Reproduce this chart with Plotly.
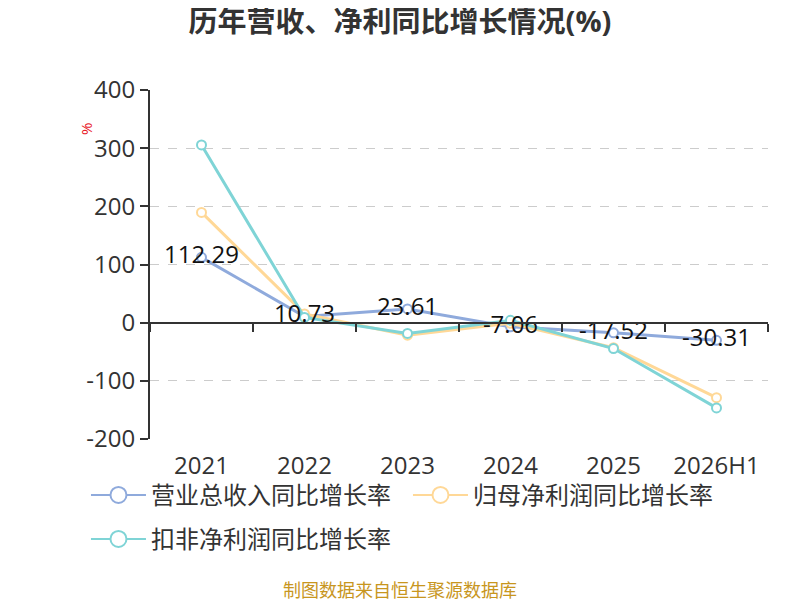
import plotly.graph_objects as go

# data
years = ["2021", "2022", "2023", "2024", "2025", "2026H1"]
revenue_growth = [112.29, 10.73, 23.61, -7.06, -17.52, -30.31]
net_profit_growth = [189.5, 15.0, -21.5, -1.0, -43.0, -129.0]
deducted_profit_growth = [305.5, 9.0, -18.5, 4.0, -44.5, -146.5]
y_ticks = [400, 300, 200, 100, 0, -100, -200]
y_tick_text = ["400", "300", "200", "100", "0", "-100", "-200"]

series = [
    ("营业总收入同比增长率", revenue_growth, "#8faadc", "legend"),
    ("归母净利润同比增长率", net_profit_growth, "#ffd897", "legend"),
    ("扣非净利润同比增长率", deducted_profit_growth, "#7fd4d6", "legend2"),
]

FONT = "Open Sans, Noto Sans CJK SC, sans-serif"

fig = go.Figure()

# plotted lines (legend drawn by separate entries below)
for name, values, color, _ in series:
    fig.add_trace(go.Scatter(
        x=years, y=values, name=name,
        mode="lines+markers",
        line=dict(color=color, width=3),
        marker=dict(size=9, color="white", line=dict(color=color, width=2)),
        showlegend=False,
        hoverinfo="skip",
    ))

# value labels for revenue growth
fig.add_trace(go.Scatter(
    x=years, y=revenue_growth,
    mode="text",
    text=[f"{v:.2f}" for v in revenue_growth],
    textposition="middle center",
    textfont=dict(size=24, color="#111111", family=FONT),
    showlegend=False,
    hoverinfo="skip",
))

# legend entries with bigger symbols
for name, values, color, leg in series:
    fig.add_trace(go.Scatter(
        x=[None], y=[None], name=name, legend=leg,
        mode="lines+markers",
        line=dict(color=color, width=2),
        marker=dict(size=20, color="white", line=dict(color=color, width=2)),
    ))

# zero-line axis with category boundary ticks
fig.add_trace(go.Scatter(x=years, y=[0] * len(years), xaxis="x2",
                         mode="markers", marker=dict(opacity=0),
                         showlegend=False, hoverinfo="skip"))

legend_style = dict(
    orientation="h", xanchor="left", yanchor="top",
    font=dict(size=24, color="#333333"),
    itemwidth=55, entrywidth=252, bgcolor="rgba(0,0,0,0)",
)

fig.update_layout(
    width=800, height=600,
    margin=dict(l=142, r=40, t=82, b=169),
    paper_bgcolor="white", plot_bgcolor="white",
    font=dict(family=FONT, color="#333333"),
    title=dict(text="<b>历年营收、净利同比增长情况(%)</b>",
               x=0.49, xanchor="center", y=0.977, yanchor="middle",
               font=dict(size=29, color="#333333")),
    xaxis=dict(
        type="category", categoryorder="array", categoryarray=years,
        range=[-0.5, 5.5],
        showline=False, showgrid=False, zeroline=False,
        ticks="", ticklabelstandoff=10,
        tickfont=dict(size=24, color="#333333"),
    ),
    xaxis2=dict(
        type="category", categoryorder="array", categoryarray=years,
        range=[-0.5, 5.5], overlaying="x", anchor="free", position=1 / 3,
        showline=True, linecolor="#333333", linewidth=2,
        ticks="outside", tickson="boundaries", ticklen=8, tickwidth=2,
        tickcolor="#333333", showticklabels=False, showgrid=False,
    ),
    yaxis=dict(
        range=[-200, 400], tickvals=y_ticks, ticktext=y_tick_text,
        showline=True, linecolor="#333333", linewidth=2,
        ticks="outside", ticklen=8, tickwidth=2, tickcolor="#333333",
        showgrid=True, gridcolor="#cccccc", griddash="dash", gridwidth=1,
        zeroline=False,
        tickfont=dict(size=24, color="#333333"),
    ),
    legend=dict(x=-0.1036, y=-0.097, **legend_style),
    legend2=dict(x=-0.1036, y=-0.223, **legend_style),
    annotations=[
        dict(text="%", xref="paper", yref="paper", x=-0.1036, y=0.888,
             xanchor="center", yanchor="middle",
             showarrow=False, textangle=-90,
             font=dict(size=15, color="#e8131c")),
        dict(text="制图数据来自恒生聚源数据库", xref="paper", yref="paper",
             x=0.4045, y=-0.4327, xanchor="center", yanchor="middle",
             showarrow=False, font=dict(size=18, color="#c8961e")),
    ],
)

fig.write_html("out.html")
